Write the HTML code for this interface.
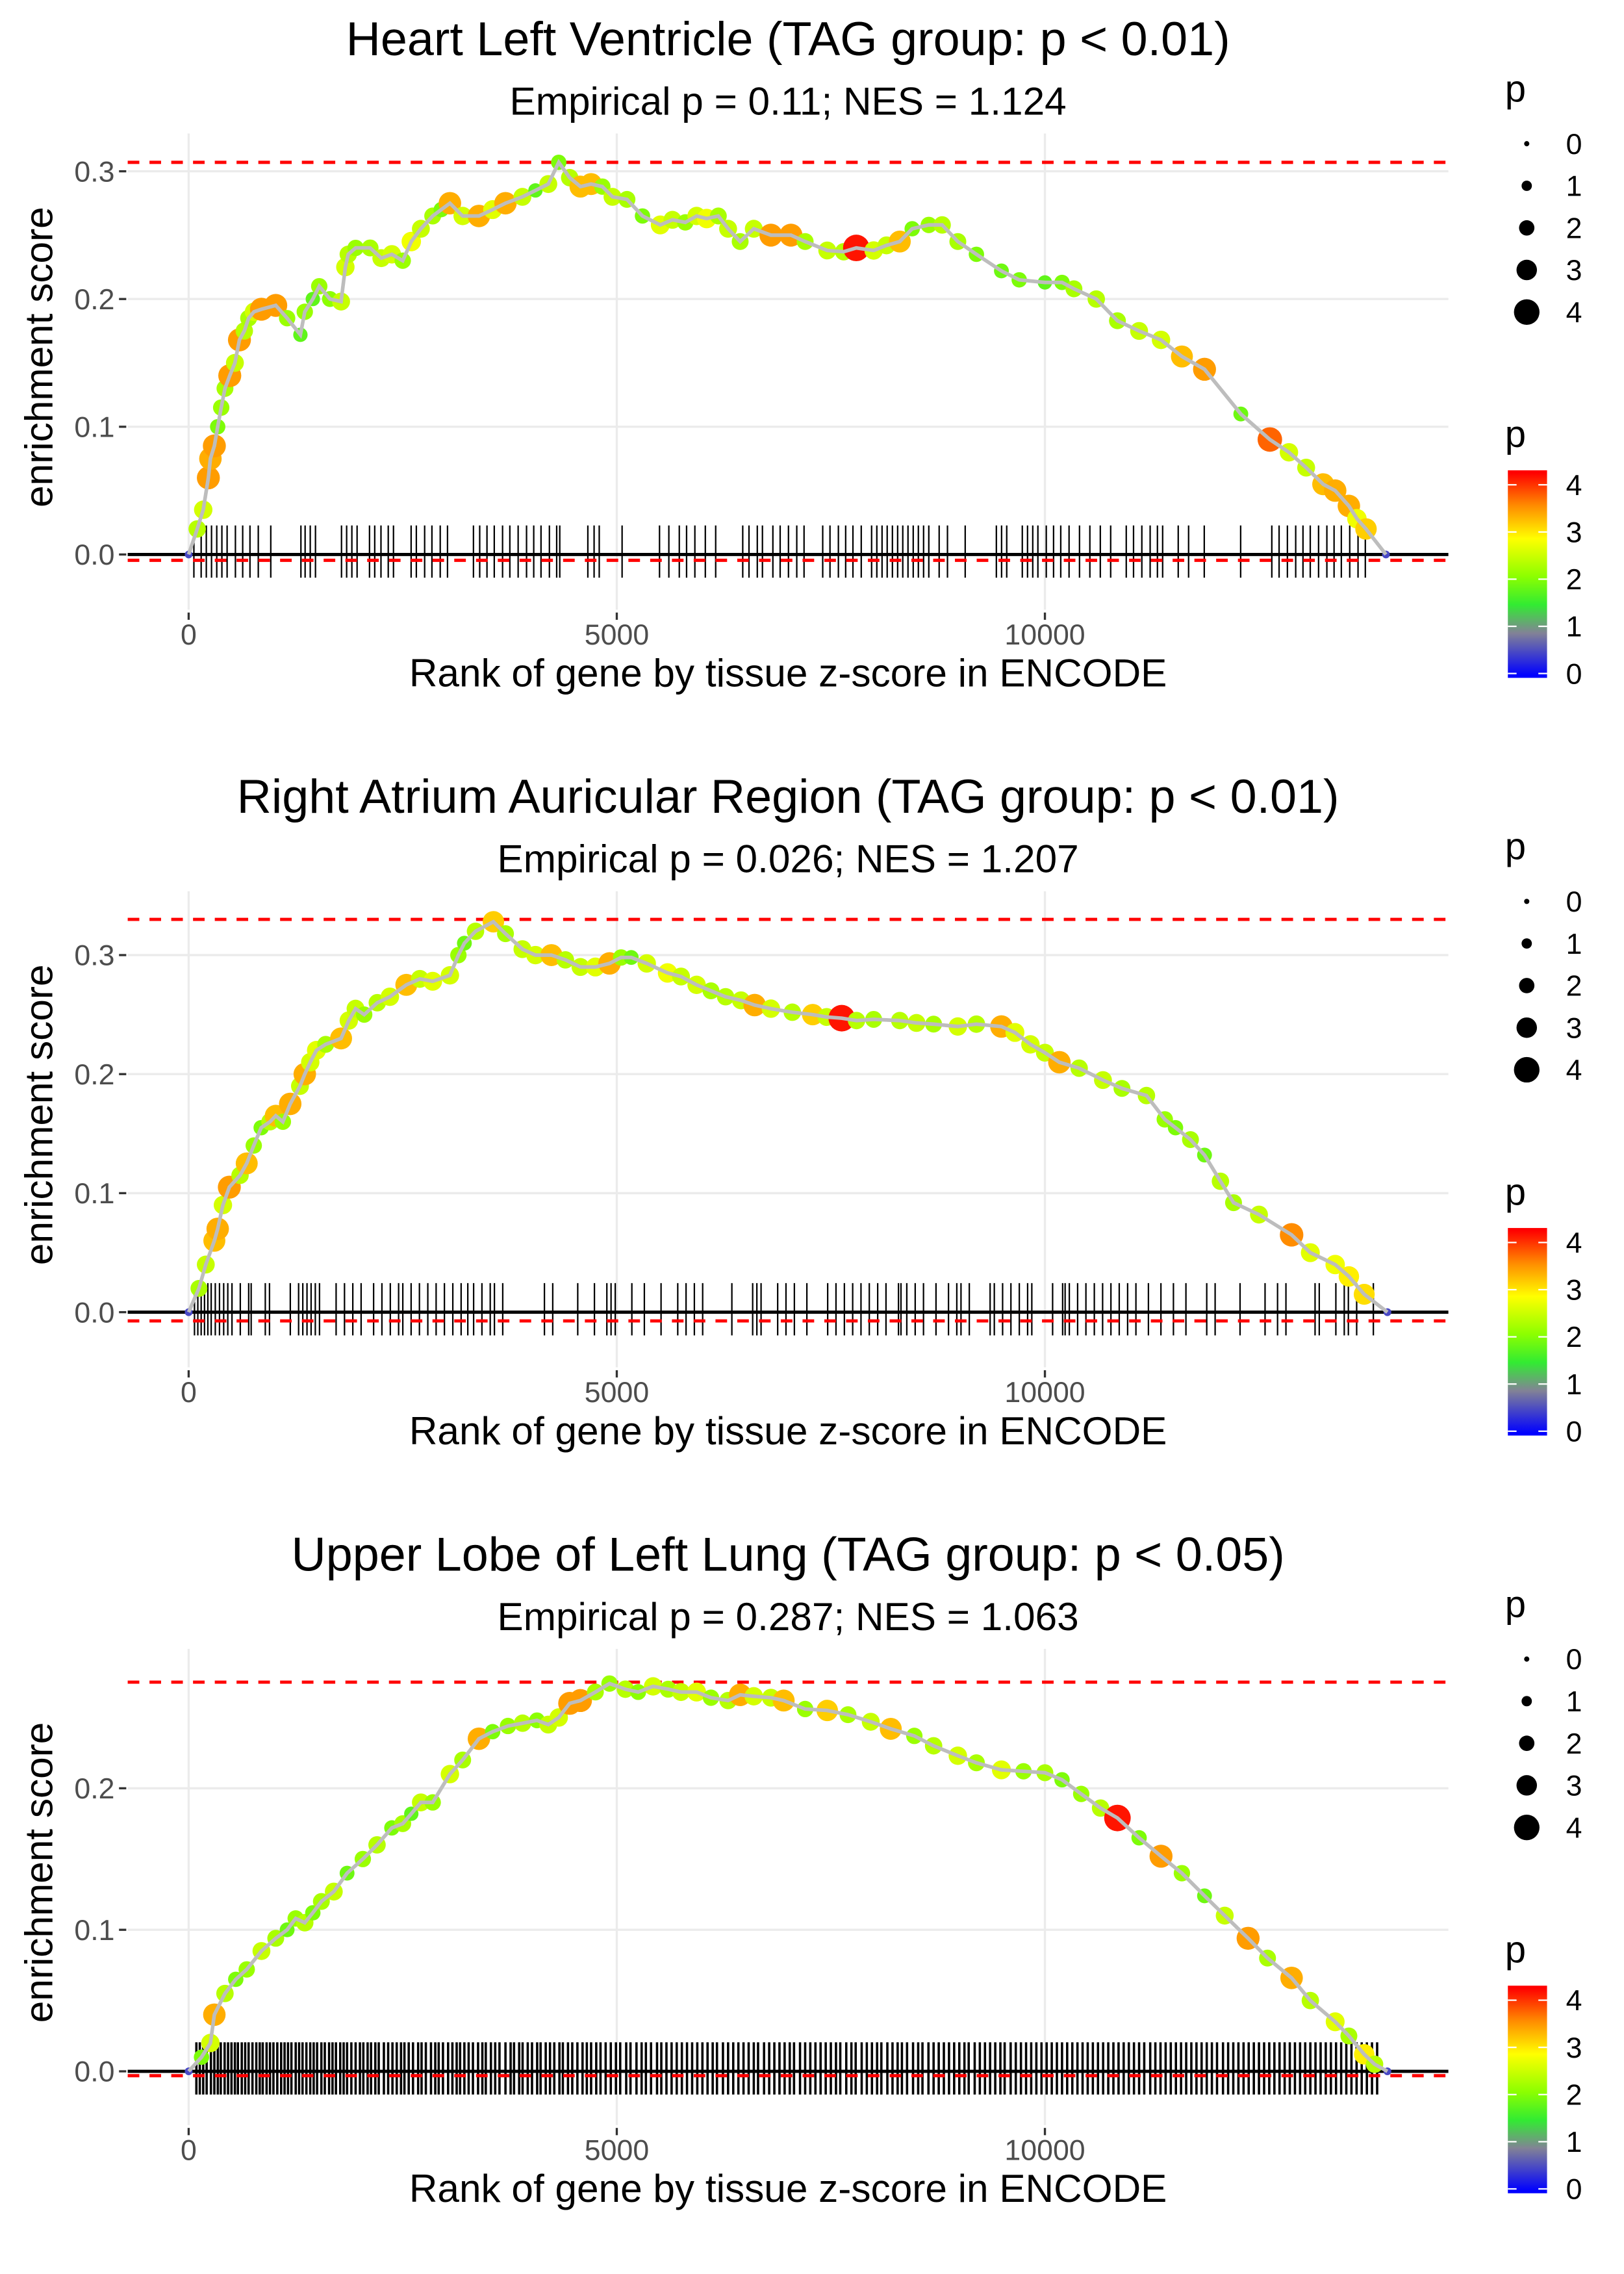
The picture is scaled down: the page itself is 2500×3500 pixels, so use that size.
<!DOCTYPE html>
<html><head><meta charset="utf-8">
<style>
html,body{margin:0;padding:0;background:#fff;}
svg{display:block;font-family:"Liberation Sans",sans-serif;}
</style></head>
<body>
<svg id="chart" width="2500" height="3500" viewBox="0 0 1100 1540" xmlns="http://www.w3.org/2000/svg"><g id="root" transform="scale(0.983)"></g></svg>
<script>
// ---------- Panel 1 data ----------
const ranks1=[0,100,170,230,254,300,339,380,424,480,540,593,650,700,763,850,1017,1150,1305,1356,1450,1525,1650,1780,1830,1864,1950,2119,2250,2373,2500,2600,2712,2850,2950,3051,3200,3390,3550,3700,3898,4050,4200,4322,4450,4576,4700,4831,4950,5119,5300,5508,5650,5800,5932,6050,6186,6300,6441,6600,6800,7034,7200,7458,7650,7797,8000,8150,8305,8450,8644,8800,8983,9200,9492,9700,10000,10200,10339,10600,10847,11100,11356,11600,11864,12288,12627,12850,13051,13250,13390,13550,13644,13750,13983];
const es1=[0,0.02,0.035,0.06,0.075,0.085,0.1,0.115,0.13,0.14,0.15,0.168,0.175,0.185,0.19,0.192,0.195,0.185,0.172,0.19,0.2,0.21,0.2,0.198,0.225,0.235,0.24,0.24,0.232,0.235,0.23,0.245,0.255,0.265,0.27,0.275,0.265,0.265,0.27,0.275,0.28,0.285,0.29,0.307,0.295,0.288,0.29,0.288,0.28,0.278,0.265,0.258,0.262,0.26,0.265,0.263,0.265,0.255,0.245,0.255,0.25,0.25,0.245,0.238,0.237,0.24,0.238,0.242,0.245,0.255,0.258,0.258,0.245,0.235,0.222,0.215,0.213,0.213,0.208,0.2,0.183,0.175,0.168,0.155,0.145,0.11,0.09,0.08,0.068,0.055,0.05,0.038,0.028,0.02,0];
const p1=[0.5,2.4,2.6,3.5,3.4,3.5,2.0,2.2,2.3,3.5,2.5,3.5,2.4,2.3,2.6,3.5,3.5,2.2,1.8,2.2,1.8,2.2,2.1,2.5,2.6,2.4,2.2,2.3,2.5,2.6,2.2,2.8,2.5,2.3,2.0,3.4,2.6,3.4,2.7,3.4,2.5,1.8,2.5,2.0,2.4,3.3,3.3,2.2,2.5,2.3,2.0,2.7,2.5,2.2,2.6,2.8,2.3,2.5,2.3,2.5,3.5,3.5,2.3,2.5,2.4,4.2,2.6,2.5,3.3,2.0,2.2,2.4,2.3,2.0,1.9,2.0,1.8,2.0,2.3,2.4,2.3,2.5,2.6,3.3,3.5,1.9,3.8,2.6,2.5,3.3,3.4,3.4,2.8,3.2,0.5];
const rug1=[61,146,206,267,328,388,449,546,631,716,813,959,1311,1360,1420,1481,1785,1845,1906,1967,2112,2173,2246,2331,2392,2598,2659,2756,2841,2938,3023,3326,3399,3484,3569,3666,3751,3848,3946,4030,4115,4213,4298,4334,4662,4735,4795,5062,5499,5608,5730,5815,5912,6034,6155,6471,6544,6641,6701,6823,6908,7005,7102,7187,7405,7490,7588,7673,7758,7855,7976,8037,8098,8158,8219,8280,8340,8401,8462,8522,8583,8644,8765,8862,9069,9433,9494,9554,9736,9797,9858,9918,10016,10101,10185,10282,10404,10525,10647,10768,10950,11035,11132,11229,11314,11375,11557,11678,11861,12286,12650,12735,12832,12929,13014,13099,13196,13293,13377,13462,13560,13657,13742];
const yTicks1=[0,0.1,0.2,0.3];

// ---------- Panel 2 data ----------
const ranks2=[0,120,200,300,339,400,475,600,678,760,847,950,1017,1100,1186,1300,1356,1420,1492,1600,1780,1870,1949,2050,2203,2350,2542,2700,2850,3051,3150,3220,3350,3559,3700,3898,4050,4237,4400,4576,4750,4915,5050,5169,5350,5593,5750,5932,6100,6271,6450,6610,6800,7050,7288,7450,7627,7800,8000,8305,8500,8700,8983,9200,9492,9650,9831,10000,10169,10400,10678,10900,11186,11400,11525,11700,11864,12050,12203,12500,12881,13100,13390,13550,13729,14000];
const es2=[0,0.02,0.04,0.06,0.07,0.09,0.105,0.115,0.125,0.14,0.155,0.16,0.165,0.16,0.175,0.19,0.2,0.21,0.22,0.225,0.23,0.245,0.255,0.25,0.26,0.265,0.275,0.28,0.278,0.283,0.3,0.31,0.32,0.328,0.318,0.305,0.3,0.3,0.296,0.29,0.29,0.293,0.298,0.298,0.293,0.285,0.282,0.275,0.27,0.265,0.262,0.258,0.255,0.252,0.25,0.248,0.247,0.245,0.246,0.245,0.243,0.242,0.24,0.242,0.24,0.235,0.225,0.218,0.21,0.205,0.195,0.188,0.182,0.162,0.155,0.145,0.132,0.11,0.092,0.082,0.065,0.05,0.04,0.03,0.015,0];
const p2=[0.5,2.3,2.5,3.3,3.4,2.6,3.5,2.4,3.3,2.2,2.0,2.4,3.3,2.2,3.4,2.5,3.4,2.6,2.7,2.3,3.3,2.6,2.5,2.2,2.4,2.6,3.3,2.5,2.7,2.6,2.2,1.9,2.4,3.2,2.3,2.5,2.6,3.3,2.4,2.5,2.7,3.4,2.2,1.9,2.6,2.8,2.5,2.6,2.3,2.4,2.5,3.4,2.6,2.4,3.2,2.5,4.2,2.4,2.3,2.4,2.5,2.3,2.6,2.4,3.4,2.7,2.6,2.5,3.4,2.4,2.5,2.3,2.4,2.2,2.0,2.3,1.9,2.4,2.3,2.5,3.6,2.7,2.8,3.0,3.1,0.5];
const rug2=[68,107,146,185,224,263,311,360,409,457,506,603,701,730,895,944,1187,1284,1333,1382,1430,1479,1528,1722,1820,1917,2014,2160,2257,2355,2452,2501,2598,2695,2793,2890,2987,3085,3182,3260,3328,3425,3522,3571,3668,4155,4252,4544,4739,4884,4933,4982,5176,5322,5517,5712,5809,5906,6003,6344,6587,6636,6685,6879,6976,7074,7220,7463,7560,7658,7755,7852,7949,8047,8144,8290,8319,8387,8485,8582,8728,8874,8971,9020,9117,9360,9409,9506,9603,9701,9798,9847,10090,10207,10236,10285,10382,10479,10577,10674,10771,10868,10966,11063,11209,11355,11501,11647,11890,11988,12279,12571,12717,12815,13155,13204,13398,13496,13544,13641,13836];
const yTicks2=[0,0.1,0.2,0.3];

// ---------- Panel 3 data ----------
const ranks3=[0,150,254,300,424,550,678,850,1017,1150,1250,1356,1450,1550,1695,1850,2034,2200,2373,2500,2600,2712,2850,3051,3200,3390,3550,3729,3900,4068,4200,4322,4450,4576,4750,4915,5100,5250,5424,5600,5750,5932,6100,6300,6441,6600,6800,6949,7200,7458,7700,7966,8200,8475,8700,8983,9200,9492,9750,10000,10200,10424,10650,10847,11100,11356,11600,11864,12100,12373,12600,12881,13100,13390,13550,13729,13850,14000];
const es3=[0,0.01,0.02,0.04,0.055,0.065,0.072,0.085,0.094,0.1,0.108,0.105,0.112,0.12,0.127,0.14,0.15,0.16,0.172,0.175,0.182,0.19,0.19,0.21,0.22,0.235,0.24,0.244,0.246,0.248,0.245,0.25,0.26,0.262,0.268,0.274,0.27,0.268,0.272,0.27,0.268,0.268,0.264,0.262,0.266,0.265,0.264,0.262,0.256,0.255,0.252,0.247,0.242,0.237,0.23,0.223,0.218,0.213,0.212,0.211,0.206,0.196,0.186,0.179,0.165,0.152,0.14,0.124,0.11,0.094,0.08,0.066,0.05,0.035,0.025,0.012,0.005,0];
const p3=[0.5,2.0,2.6,3.4,2.4,2.0,2.2,2.5,2.3,1.9,2.2,2.4,2.0,2.3,2.5,1.9,2.2,2.4,2.0,2.3,1.8,2.5,2.2,2.6,2.3,3.4,2.0,2.2,2.4,2.1,2.5,2.6,3.5,3.5,2.3,2.2,2.4,2.1,2.6,2.3,2.5,2.7,2.2,2.4,3.4,2.6,2.5,3.3,2.2,3.2,2.3,2.5,3.3,2.2,2.4,2.6,2.3,2.7,2.2,2.3,2.0,2.2,2.4,4.2,2.0,3.5,2.2,1.9,2.5,3.5,2.3,3.4,2.4,2.7,2.3,3.0,2.4,0.5];
const rug3=[90,130,170,210,260,300,340,375,420,460,500,540,575,620,660,700,745,790,830,865,910,950,990,1035,1080,1120,1160,1200,1250,1290,1330,1375,1420,1460,1500,1550,1590,1640,1680,1720,1770,1810,1850,1900,1950,2000,2040,2090,2130,2180,2220,2280,2330,2380,2430,2480,2520,2570,2620,2680,2720,2770,2830,2880,2920,2970,3030,3080,3130,3170,3220,3270,3320,3380,3430,3470,3530,3580,3630,3700,3760,3800,3860,3900,3960,4010,4070,4110,4170,4220,4270,4330,4370,4430,4480,4540,4600,4650,4700,4760,4810,4870,4930,4990,5040,5110,5160,5230,5290,5340,5400,5470,5520,5580,5640,5700,5760,5820,5880,5940,6000,6060,6120,6170,6240,6300,6360,6420,6480,6540,6600,6650,6720,6780,6840,6900,6960,7020,7070,7140,7200,7260,7320,7380,7440,7500,7560,7610,7680,7740,7790,7860,7920,7980,8040,8090,8160,8220,8280,8330,8390,8460,8520,8570,8640,8700,8760,8820,8880,8940,9000,9060,9110,9180,9240,9300,9360,9420,9480,9530,9600,9660,9720,9780,9840,9900,9960,10020,10080,10140,10200,10260,10320,10380,10440,10500,10560,10620,10680,10740,10800,10860,10920,10980,11040,11100,11160,11230,11290,11350,11410,11470,11530,11590,11650,11710,11770,11830,11890,11950,12010,12080,12140,12200,12260,12320,12380,12440,12500,12560,12620,12680,12740,12800,12860,12920,12980,13040,13100,13160,13220,13280,13340,13400,13460,13520,13580,13640,13700,13760,13820,13880];
const yTicks3=[0,0.1,0.2];

const xTicks=[0,5000,10000];
const xTickLabels=["0","5000","10000"];
const legendSizes=[0,1,2,3,4];
const colorbarLabels=[0,1,2,3,4];

const titles=["Heart Left Ventricle (TAG group: p < 0.01)","Right Atrium Auricular Region (TAG group: p < 0.01)","Upper Lobe of Left Lung (TAG group: p < 0.05)"];
const subtitles=["Empirical p = 0.11; NES = 1.124","Empirical p = 0.026; NES = 1.207","Empirical p = 0.287; NES = 1.063"];

const NS="http://www.w3.org/2000/svg";
const svg=document.getElementById('chart');
const root=document.getElementById('root');
function mk(tag,attrs,parent){const e=document.createElementNS(NS,tag);for(const k in attrs)e.setAttribute(k,attrs[k]);(parent||root).appendChild(e);return e;}

const cStops=[[0,[0,0,255]],[0.9,[130,130,150]],[1.5,[50,235,50]],[2.1,[140,255,0]],[2.9,[255,255,0]],[3.6,[255,140,0]],[4.3,[255,0,0]]];
function pColor(p){for(let i=1;i<cStops.length;i++){if(p<=cStops[i][0]){const a=cStops[i-1],b=cStops[i];const t=(p-a[0])/(b[0]-a[0]);const c=a[1].map((v,j)=>Math.round(v+(b[1][j]-v)*t));return `rgb(${c[0]},${c[1]},${c[2]})`;}}return 'rgb(255,0,0)';}
function pRad(p){return 1.8+p*1.75;}

const panels=[
 {ranks:ranks1,es:es1,p:p1,rug:rug1,yt:yTicks1,top:0,y0:382,yPer:88,pTop:92,pBot:420,max:0.307,dashLow:386,rw:1},
 {ranks:ranks2,es:es2,p:p2,rug:rug2,yt:yTicks2,top:522,y0:904,yPer:82,pTop:614,pBot:942,max:0.33,dashLow:910,rw:1},
 {ranks:ranks3,es:es3,p:p3,rug:rug3,yt:yTicks3,top:1044,y0:1427,yPer:97.5,pTop:1136,pBot:1464,max:0.275,dashLow:1430,rw:1.6}
];
const X0=130,XPER=295/5000,PL=88,PR=998;
function xS(r){return X0+r*XPER;}

panels.forEach((P,i)=>{
 const g=mk('g',{});
 
 
 const yS=v=>P.y0-v*P.yPer*10;
 xTicks.forEach(t=>{const l=mk('line',{x1:xS(t),x2:xS(t),y1:P.pTop,y2:P.pBot,stroke:'#ebebeb','stroke-width':1.5},g);});
 P.yt.forEach(t=>{const l=mk('line',{x1:PL,x2:PR,y1:yS(t),y2:yS(t),stroke:'#ebebeb','stroke-width':1.5},g);
  const tx=mk('text',{x:79,y:yS(t)+7,'text-anchor':'end','font-size':20,fill:'#4d4d4d'},g);tx.textContent=t.toFixed(1);
  mk('line',{x1:82,x2:87,y1:yS(t),y2:yS(t),stroke:'#333','stroke-width':1.5},g);});
 xTicks.forEach((t,k)=>{mk('line',{x1:xS(t),x2:xS(t),y1:P.pBot+2,y2:P.pBot+7,stroke:'#333','stroke-width':1.5},g);
  const tx=mk('text',{x:xS(t),y:P.pBot+24,'text-anchor':'middle','font-size':20,fill:'#4d4d4d'},g);tx.textContent=xTickLabels[k];});
 P.rug.forEach(r=>{const l=mk('line',{x1:xS(r),x2:xS(r),y1:P.y0-20,y2:P.y0+16,stroke:'#000','stroke-width':P.rw},g);});
 const z=mk('line',{x1:PL,x2:PR,y1:P.y0,y2:P.y0,stroke:'#000','stroke-width':2.2},g);
 const d1=mk('line',{x1:PL,x2:PR,y1:yS(P.max),y2:yS(P.max),stroke:'#ff0000','stroke-width':2.2,'stroke-dasharray':'8 7'},g);
 const d2=mk('line',{x1:PL,x2:PR,y1:P.dashLow,y2:P.dashLow,stroke:'#ff0000','stroke-width':2.2,'stroke-dasharray':'8 7'},g);
 const n=Math.min(P.ranks.length,P.es.length,P.p.length);
 for(let k=0;k<n;k++){const c=mk('circle',{cx:xS(P.ranks[k]),cy:yS(P.es[k]),r:pRad(P.p[k]),fill:pColor(P.p[k])},g);}
 const pts=[];for(let k=0;k<Math.min(P.ranks.length,P.es.length);k++)pts.push(xS(P.ranks[k])+','+yS(P.es[k]));
 const pl=mk('polyline',{points:pts.join(' '),fill:'none',stroke:'#bdbdbd','stroke-width':2.5},g);
 const t1=mk('text',{x:543,y:P.top+38,'text-anchor':'middle','font-size':33,fill:'#000'},g);t1.textContent=titles[i];
 const t2=mk('text',{x:543,y:P.top+79,'text-anchor':'middle','font-size':27,fill:'#000'},g);t2.textContent=subtitles[i];
 const xt=mk('text',{x:543,y:P.pBot+53,'text-anchor':'middle','font-size':27,fill:'#000'},g);xt.textContent='Rank of gene by tissue z-score in ENCODE';
 const cy=(P.pTop+P.pBot)/2-10;
 const yt=mk('text',{x:36,y:cy,'text-anchor':'middle','font-size':27,fill:'#000',transform:`rotate(-90 36 ${cy})`},g);yt.textContent='enrichment score';
 const L=P.top;
 const lg=mk('g',{},g);
 const lt=mk('text',{x:1037,y:L+70,'font-size':26,fill:'#000'},lg);lt.textContent='p';
 legendSizes.forEach((s,k)=>{const yy=L+99+k*29;mk('circle',{cx:1052,cy:yy,r:pRad(s),fill:'#000'},lg);
  const tx=mk('text',{x:1079,y:yy+7,'font-size':20,fill:'#000'},lg);tx.textContent=String(s);});
 const cg=mk('g',{},g);
 const ct=mk('text',{x:1037,y:L+308,'font-size':26,fill:'#000'},cg);ct.textContent='p';
 mk('rect',{x:1039,y:L+324,width:27,height:143,fill:'url(#cbar)'},cg);
 colorbarLabels.forEach(v=>{const yy=L+464-v*32.5;mk('line',{x1:1039,x2:1045,y1:yy,y2:yy,stroke:'#fff','stroke-width':1},cg);mk('line',{x1:1060,x2:1066,y1:yy,y2:yy,stroke:'#fff','stroke-width':1},cg);
  const tx=mk('text',{x:1079,y:yy+7,'font-size':20,fill:'#000'},cg);tx.textContent=String(v);});
});
const defs=mk('defs',{},svg);
const lgd=mk('linearGradient',{id:'cbar',x1:0,y1:1,x2:0,y2:0},defs);
cStops.forEach(s=>{mk('stop',{offset:((s[0]+0.05)/4.4),'stop-color':`rgb(${s[1].join(',')})`},lgd);});
</script>
</body></html>
